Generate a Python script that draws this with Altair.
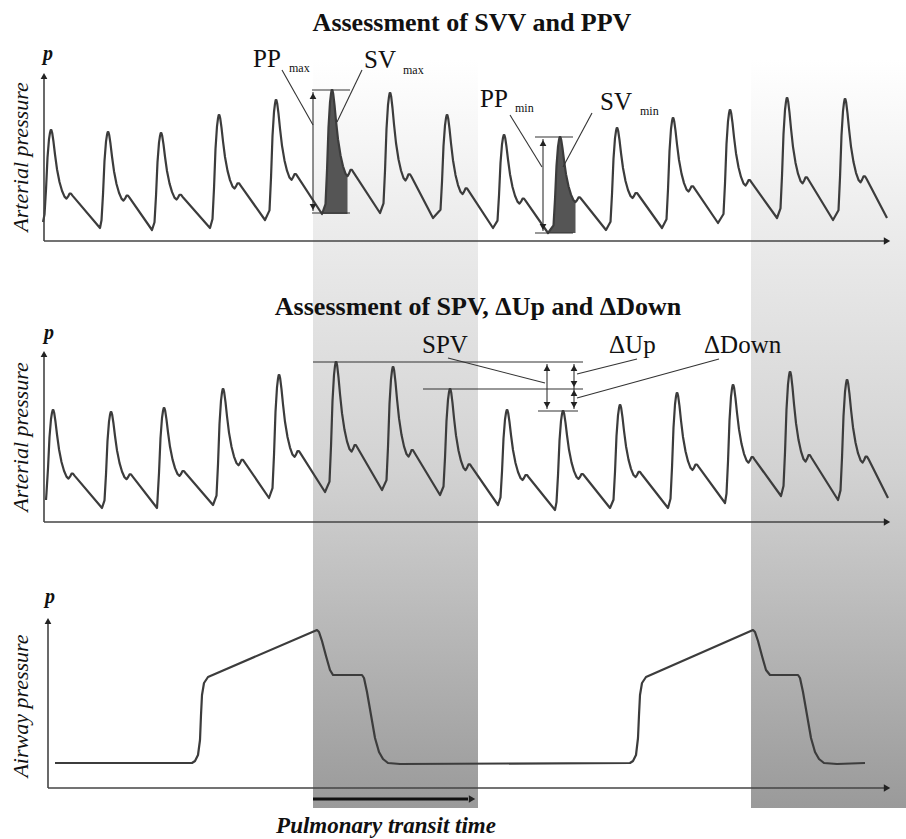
import altair as alt
import pandas as pd

# ---------------- data (chart units) ----------------
# Top panel: arterial pressure (SVV / PPV)
TOP_START = (43, 222)
top_peak_t = [51, 108, 161, 219, 276, 332, 390, 447, 504, 560, 617, 673, 730, 787, 845]
top_peak_p = [130, 132, 133, 115, 100, 90, 93, 115, 135, 137, 128, 118, 110, 98, 99]
top_trough_t = [100, 152, 210, 265, 322, 380, 433, 493, 548, 606, 662, 718, 777, 833, 887]
top_trough_p = [228, 230, 228, 220, 214, 213, 218, 228, 233, 230, 228, 223, 218, 220, 218]
top_filled_beats = [5, 9]          # SVmax and SVmin beats

# Middle panel: arterial pressure (SPV, dUp, dDown)
MID_START = (46, 500)
mid_peak_t = [53, 111, 164, 223, 279, 336, 393, 450, 507, 563, 620, 677, 733, 790, 847]
mid_peak_p = [410, 412, 408, 389, 375, 362, 367, 389, 410, 411, 405, 393, 385, 372, 380]
mid_trough_t = [102, 157, 213, 269, 325, 382, 440, 498, 555, 610, 668, 725, 781, 838, 888]
mid_trough_p = [508, 508, 505, 498, 492, 490, 495, 505, 510, 508, 508, 503, 496, 500, 498]

# Pulse contour read from one beat: offset from the peak and fraction of the stroke
shape_dt = [-6.5, -5, -3.5, -2, -1, -0.3, 0.4, 1.2, 2.5, 4, 6, 8.5, 11, 13.5, 15.5, 17, 18.5, 20, 21.5]
shape_h = [0.08, 0.35, 0.7, 0.9, 0.97, 1.0, 1.0, 0.97, 0.88, 0.75, 0.6, 0.47, 0.38, 0.32, 0.3, 0.32, 0.35, 0.35, 0.33]
FILL_DT_END = 15.5

# Bottom panel: airway pressure
air_t = [55, 192, 195, 198, 200, 201, 202, 204, 208, 317, 319, 322, 326, 330, 333, 362, 364, 367, 371, 375, 379, 383, 388, 400,
         630, 633, 636, 638, 639, 640, 642, 646, 753, 755, 758, 762, 766, 770, 798, 800, 803, 807, 811, 815, 819, 824, 837, 865]
air_p = [763, 763, 761, 755, 740, 715, 695, 683, 677, 630, 632, 641, 656, 670, 675, 675, 678, 692, 715, 738, 752, 759, 763, 764,
         763, 761, 755, 738, 715, 695, 683, 677, 630, 632, 641, 656, 670, 675, 675, 678, 692, 715, 738, 752, 759, 763, 764, 763]

# Shaded inspiration bands
band_t0 = [313, 751]
band_t1 = [478, 906]
BAND_TOP, BAND_BOTTOM = 60, 808

# ---------------- build tables ----------------
def build_wave(panel, start, pk_t, pk_p, tr_t, tr_p):
    rows = [dict(panel=panel, x=start[0], y=start[1])]
    prev = start[1]
    beats = []
    for i, (pt, pp, tt, tp) in enumerate(zip(pk_t, pk_p, tr_t, tr_p)):
        pts = []
        for dt, h in zip(shape_dt, shape_h):
            base = prev if dt <= 0 else tp
            pts.append((pt + dt, base - h * (base - pp), dt))
        beats.append(dict(prev_t=rows[-1]["x"], prev_p=prev, pts=pts))
        for x, y, _ in pts:
            rows.append(dict(panel=panel, x=x, y=y))
        rows.append(dict(panel=panel, x=tt, y=tp))
        prev = tp
    df = pd.DataFrame(rows)
    df["order"] = range(len(df))
    return df, beats

top_df, top_beats = build_wave("top", TOP_START, top_peak_t, top_peak_p, top_trough_t, top_trough_p)
mid_df, _ = build_wave("mid", MID_START, mid_peak_t, mid_peak_p, mid_trough_t, mid_trough_p)
air_df = pd.DataFrame(dict(panel="air", x=air_t, y=air_p))
air_df["order"] = range(len(air_df))
wave_df = pd.concat([top_df, mid_df, air_df], ignore_index=True)

fill_rows = []
for k in top_filled_beats:
    b = top_beats[k]
    base = b["prev_p"]
    fill_rows.append(dict(beat=k, x=b["prev_t"], y=base, base=base))
    last = None
    for x, y, dt in b["pts"]:
        if dt <= FILL_DT_END:
            fill_rows.append(dict(beat=k, x=x, y=y, base=base))
            last = x
    fill_rows.append(dict(beat=k, x=last + 0.01, y=base, base=base))
fill_df = pd.DataFrame(fill_rows)

band_df = pd.DataFrame(dict(x=band_t0, x2=band_t1, y=[BAND_TOP] * 2, y2=[BAND_BOTTOM] * 2))

# axis lines
axis_x = [44, 44, 44, 44, 48, 48]
axis_y = [241, 241, 522, 522, 788, 788]
axis_x2 = [44, 888, 44, 888, 48, 888]
axis_y2 = [76, 241, 354, 522, 621, 788]
axis_df = pd.DataFrame(dict(x=axis_x, y=axis_y, x2=axis_x2, y2=axis_y2))

# annotation guide lines
ann_x = [312, 312, 313, 535, 535, 543, 282, 362, 510, 592,
         313, 423, 538, 547, 574, 448, 637, 719]
ann_y = [90, 213, 92, 137, 233, 139, 70, 70, 115, 113,
         362, 389, 411, 364, 364, 358, 359, 359]
ann_x2 = [350, 350, 313, 573, 573, 543, 313, 337, 542, 563,
          583, 583, 578, 547, 574, 545, 577, 577]
ann_y2 = [90, 213, 211, 137, 233, 231, 125, 122, 167, 167,
          362, 389, 411, 409, 409, 383, 374, 398]
ann_df = pd.DataFrame(dict(x=ann_x, y=ann_y, x2=ann_x2, y2=ann_y2))

# arrow heads
head_x = [44, 44, 48, 313, 543, 547, 574, 574]
head_y = [76, 354, 621, 96, 143, 368, 368, 393]
up_df = pd.DataFrame(dict(x=head_x, y=head_y))
down_x = [313, 543, 547, 574, 574]
down_y = [207, 227, 405, 384, 405]
down_df = pd.DataFrame(dict(x=down_x, y=down_y))
right_x = [887, 887, 887, 472]
right_y = [241, 522, 788, 799]
right_df = pd.DataFrame(dict(x=right_x, y=right_y))

transit_df = pd.DataFrame(dict(x=[313], x2=[468], y=[799], y2=[799]))

# ---------------- chart ----------------
xs = alt.Scale(domain=[0, 906], range=[0, 906], nice=False, zero=False)
ys = alt.Scale(domain=[0, 839], range=[0, 839], nice=False, zero=False)
X = lambda f="x": alt.X(f"{f}:Q", scale=xs, axis=None)
Y = lambda f="y": alt.Y(f"{f}:Q", scale=ys, axis=None)

INK = "#3c3c3c"
SERIF = "Liberation Serif"

grad = alt.Gradient(
    gradient="linear",
    stops=[alt.GradientStop(color="#ffffff", offset=0),
           alt.GradientStop(color="#ececec", offset=0.22),
           alt.GradientStop(color="#d2d2d2", offset=0.55),
           alt.GradientStop(color="#9a9a9a", offset=1)],
    x1=0, x2=0, y1=0, y2=1,
)

bands = alt.Chart(band_df).mark_rect(fill=grad).encode(
    x=X(), x2="x2:Q", y=Y(), y2="y2:Q")

fills = alt.Chart(fill_df).mark_area(color="#555555", interpolate="linear").encode(
    x=X(), y=Y(), y2="base:Q", detail="beat:N")

waves = alt.Chart(wave_df).mark_line(color=INK, strokeWidth=2.2, interpolate="linear",
                                     strokeJoin="round").encode(
    x=X(), y=Y(), detail="panel:N", order="order:Q")

axes = alt.Chart(axis_df).mark_rule(color="#444444", strokeWidth=1.6).encode(
    x=X(), x2="x2:Q", y=Y(), y2="y2:Q")

anns = alt.Chart(ann_df).mark_rule(color="#333333", strokeWidth=1.1).encode(
    x=X(), x2="x2:Q", y=Y(), y2="y2:Q")

transit = alt.Chart(transit_df).mark_rule(color="#111111", strokeWidth=3).encode(
    x=X(), x2="x2:Q", y=Y(), y2="y2:Q")

ups = alt.Chart(up_df).mark_point(shape="triangle-up", filled=True, size=45, color="#222222", opacity=1).encode(
    x=X(), y=Y())
downs = alt.Chart(down_df).mark_point(shape="triangle-down", filled=True, size=45, color="#222222", opacity=1).encode(
    x=X(), y=Y())
rights = alt.Chart(right_df).mark_point(shape="triangle-right", filled=True, size=55, color="#222222", opacity=1).encode(
    x=X(), y=Y())

def texts(labels, xs_, ys_, **kw):
    df = pd.DataFrame(dict(x=xs_, y=ys_, text=labels))
    return alt.Chart(df).mark_text(font=SERIF, color="#111111", **kw).encode(
        x=X(), y=Y(), text="text:N")

titles = texts(["Assessment of SVV and PPV", "Assessment of SPV, \u0394Up and \u0394Down"],
               [472, 478], [31, 315], fontSize=26, fontWeight="bold", align="center", baseline="alphabetic")
p_labels = texts(["p", "p", "p"], [48, 49, 50], [60, 339, 603],
                 fontSize=20, fontWeight="bold", fontStyle="italic", align="center", baseline="alphabetic")
ylabels = texts(["Arterial pressure", "Arterial pressure", "Airway pressure"], [21, 21, 21], [157, 437, 706],
                fontSize=22, fontStyle="italic", angle=270, align="center", baseline="middle")
big_labels = texts(["PP", "SV", "PP", "SV", "SPV", "\u0394Up", "\u0394Down"],
                   [253, 364, 480, 600, 422, 609, 704], [67, 68, 107, 110, 353, 353, 353],
                   fontSize=25, align="left", baseline="alphabetic")
subs = texts(["max", "max", "min", "min"], [289, 403, 515, 640], [72, 74, 112, 115],
             fontSize=12, align="left", baseline="alphabetic")
transit_label = texts(["Pulmonary transit time"], [386], [833],
                      fontSize=23, fontWeight="bold", fontStyle="italic", align="center", baseline="alphabetic")

chart = alt.layer(
    bands, fills, waves, axes, anns, transit, ups, downs, rights,
    titles, p_labels, ylabels, big_labels, subs, transit_label,
).properties(
    width=906, height=839, padding=0, autosize=alt.AutoSizeParams(type="none"),
    background="white",
).configure_view(stroke=None)

chart.save("out.html", embed_options={"renderer": "svg", "actions": False})
